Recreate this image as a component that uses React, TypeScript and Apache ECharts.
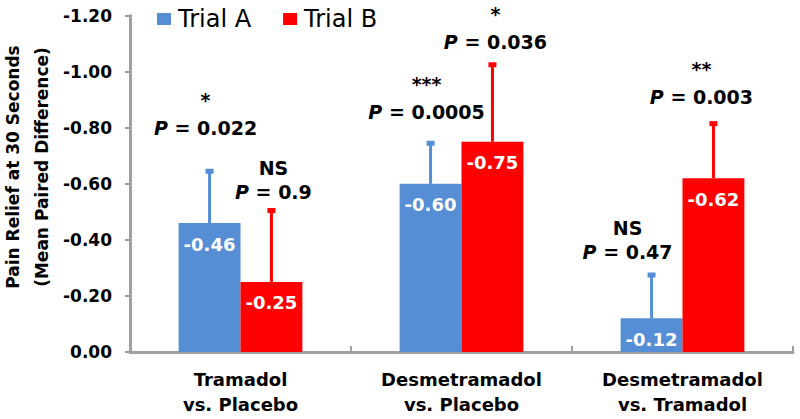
import React, { useEffect, useRef } from "react";
import * as echarts from "echarts";

const categories = ["Tramadol\nvs. Placebo", "Desmetramadol\nvs. Placebo", "Desmetramadol\nvs. Tramadol"];
const trialA = [-0.46, -0.6, -0.12];
const trialB = [-0.25, -0.75, -0.62];
const errTopA = [-0.65, -0.75, -0.28];
const errTopB = [-0.51, -1.03, -0.82];
const sigA = ["*", "***", "NS"];
const sigB = ["NS", "*", "**"];
const pA = ["0.022", "0.0005", "0.47"];
const pB = ["0.9", "0.036", "0.003"];
const yTicks = [0, -0.2, -0.4, -0.6, -0.8, -1.0, -1.2];

// annotation placement (layout, in axis units / px)
const pLevelA = [-0.8, -0.856, -0.355];
const pLevelB = [-0.57, -1.105, -0.909];
const shiftA = [-4, -4, -24];
const shiftB = [2, 3, -12];

const BLUE = "#558ED5";
const RED = "#FF0000";
const FONT = "DejaVu Sans";
const BAR_FRAC = 0.28;

function errSeries(
  name: string,
  vals: number[],
  errs: number[],
  sigs: string[],
  ps: string[],
  levels: number[],
  shifts: number[],
  color: string,
  side: number
) {
  return {
    type: "custom",
    name,
    z: 5,
    data: vals.map((v, i) => [i, v, errs[i]]),
    renderItem: (params: any, api: any) => {
      const i = params.dataIndex;
      const catW = api.size([1, 0])[0];
      const cx = api.coord([i, 0])[0] + (side * BAR_FRAC * catW) / 2;
      const yBar = api.coord([i, vals[i]])[1];
      const yErr = api.coord([i, errs[i]])[1];
      const yP = api.coord([i, levels[i]])[1];
      const tx = cx + shifts[i];
      const sigDy = sigs[i] === "NS" ? -24 : -28;
      const base = { fontFamily: FONT, fontWeight: "bold", fontSize: 19, fill: "#000", color: "#000" };
      return {
        type: "group",
        children: [
          { type: "line", shape: { x1: cx, y1: yBar, x2: cx, y2: yErr }, style: { stroke: color, lineWidth: 3 } },
          { type: "rect", shape: { x: cx - 4, y: yErr - 1, width: 8, height: 5 }, style: { fill: color } },
          {
            type: "text",
            x: tx,
            y: yP,
            style: {
              text: `{i|P}{n| = ${ps[i]}}`,
              rich: {
                i: { ...base, fontStyle: "italic" },
                n: { ...base },
              },
              align: "center",
              verticalAlign: "middle",
              textAlign: "center",
              textVerticalAlign: "middle",
            },
          },
          {
            type: "text",
            x: tx,
            y: yP + sigDy,
            style: {
              text: sigs[i],
              ...base,
              align: "center",
              verticalAlign: "middle",
              textAlign: "center",
              textVerticalAlign: "middle",
            },
          },
        ],
      };
    },
  };
}

export default function App() {
  const ref = useRef<HTMLDivElement>(null);
  useEffect(() => {
    document.body.style.margin = "0";
    const chart = echarts.init(ref.current!, null, { renderer: "svg" });
    const barLabel = {
      show: true,
      position: "insideTop",
      distance: 12,
      color: "#fff",
      fontFamily: FONT,
      fontWeight: "bold",
      fontSize: 18,
      formatter: (p: any) => Number(p.value).toFixed(2),
    };
    chart.setOption({
      animation: false,
      backgroundColor: "#fff",
      textStyle: { fontFamily: FONT },
      grid: { left: 130, right: 7, top: 15.6, bottom: 67, containLabel: false },
      legend: {
        data: ["Trial A", "Trial B"],
        left: 157,
        top: 7,
        padding: 0,
        itemWidth: 14,
        itemHeight: 12,
        itemGap: 32,
        icon: "rect",
        textStyle: { fontFamily: FONT, fontSize: 24, color: "#000", padding: [0, 0, 0, 2] },
      },
      xAxis: {
        type: "category",
        data: categories,
        axisLine: { lineStyle: { color: "#A0A0A0", width: 3 } },
        axisTick: { show: true, inside: true, length: 6, lineStyle: { color: "#A0A0A0", width: 2 } },
        axisLabel: {
          color: "#000",
          fontFamily: FONT,
          fontWeight: "bold",
          fontSize: 18,
          lineHeight: 25,
          margin: 15,
          interval: 0,
        },
      },
      yAxis: {
        type: "value",
        inverse: true,
        min: -1.2,
        max: 0,
        interval: 0.2,
        splitLine: { show: false },
        axisLine: { show: true, lineStyle: { color: "#A0A0A0", width: 3 } },
        axisTick: { show: true, length: 5, lineStyle: { color: "#A0A0A0", width: 2 } },
        axisLabel: {
          color: "#000",
          fontFamily: FONT,
          fontWeight: "bold",
          fontSize: 17,
          margin: 18,
          formatter: (v: number) => {
            const t = yTicks.find((k) => Math.abs(k - v) < 1e-6);
            return (t !== undefined ? t : v).toFixed(2).replace("-0.00", "0.00");
          },
        },
      },
      graphic: [
        {
          type: "text",
          x: 27,
          y: 167,
          rotation: Math.PI / 2,
          style: {
            text: "Pain Relief at 30 Seconds\n(Mean Paired Difference)",
            fontFamily: FONT,
            fontWeight: "bold",
            fontSize: 17,
            lineHeight: 29,
            fill: "#000",
            align: "center",
            verticalAlign: "middle",
            textAlign: "center",
            textVerticalAlign: "middle",
          },
        },
      ],
      series: [
        {
          type: "bar",
          name: "Trial A",
          data: trialA,
          barWidth: BAR_FRAC * 100 + "%",
          barGap: "0%",
          itemStyle: { color: BLUE },
          label: barLabel,
        },
        {
          type: "bar",
          name: "Trial B",
          data: trialB,
          barWidth: BAR_FRAC * 100 + "%",
          barGap: "0%",
          itemStyle: { color: RED },
          label: barLabel,
        },
        errSeries("errA", trialA, errTopA, sigA, pA, pLevelA, shiftA, BLUE, -1),
        errSeries("errB", trialB, errTopB, sigB, pB, pLevelB, shiftB, RED, 1),
      ],
    });
    return () => chart.dispose();
  }, []);
  return <div ref={ref} style={{ width: 800, height: 419 }} />;
}
